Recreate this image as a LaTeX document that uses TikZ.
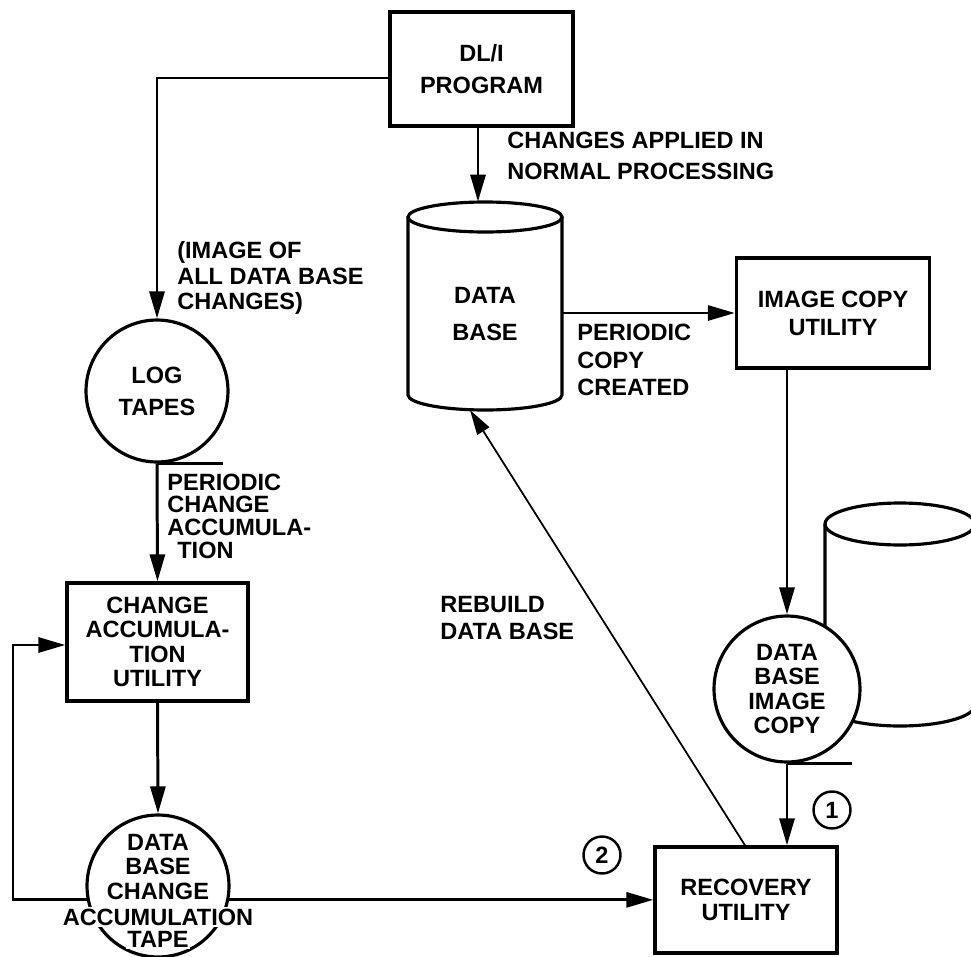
\documentclass[tikz,border=0pt]{standalone}
\usepackage{fontspec}
\setmainfont{Liberation Sans}
\usetikzlibrary{arrows.meta}
\begin{document}
\begin{tikzpicture}[x=0.02cm,y=-0.02cm,
  line/.style={line width=1.7pt},
  arr/.style={line width=1.7pt,-{Triangle[length=0.54cm,width=0.3cm]}},
  thinarr/.style={line width=1pt,-{Triangle[length=0.5cm,width=0.28cm]}},
  box/.style={draw,line width=1.9pt,inner sep=0pt},
  tape/.style={circle,draw,line width=1.8pt,inner sep=0pt,fill=white},
  num/.style={circle,draw,line width=1.4pt,minimum size=0.74cm,inner sep=0pt,font=\bfseries\fontsize{13.4}{13.4}\selectfont},
  tx/.style={font=\bfseries\fontsize{13.4}{#1}\selectfont,inner sep=0pt},
  tx/.default=15pt]
\useasboundingbox (0,0) rectangle (971,957);

% DL/I program
\node[box,minimum width=3.66cm,minimum height=2.28cm,tx=18pt,align=center] (dli) at (481.5,69) {DL/I\\PROGRAM};

% Data base cylinder
\node[minimum width=3.08cm,minimum height=4.16cm,inner sep=0pt] (db) at (485,306) {};
\draw[line width=1.8pt] (408,217) -- (408,395) arc[start angle=180,end angle=360,x radius=1.54cm,y radius=0.3cm] -- (562,217);
\draw[line width=1.8pt] (485,217) ellipse[x radius=1.54cm,y radius=0.3cm];
\node[tx=21.6pt,align=center] (dbl) at (485,314) {DATA\\BASE};

\draw[arr] (dli.south -| 478,0) -- (db.north -| 478,0);
\node[tx=18pt,align=left,anchor=west] (t1) at (507,156) {CHANGES APPLIED IN\\NORMAL PROCESSING};

% Image copy utility
\node[box,minimum width=3.86cm,minimum height=2.2cm,tx=15.9pt,align=center] (icu) at (833,313) {IMAGE COPY\\UTILITY};
\draw[arr] (icu.west -| db.east) -- (icu.west);
\node[tx=15.6pt,align=left,anchor=west] (t2) at (577,360) {PERIODIC\\COPY\\CREATED};

% right cylinder (behind image copy tape)
\begin{scope}
\clip (0,0) rectangle (971,957);
\draw[line width=1.8pt] (825,524) -- (825,705) arc[start angle=180,end angle=360,x radius=1.5cm,y radius=0.42cm];
\draw[line width=1.8pt] (900,524) ellipse[x radius=1.5cm,y radius=0.42cm];
\end{scope}

% Data base image copy
\node[tape,minimum size=2.92cm,tx=13.7pt,align=center] (dbic) at (787,689) {DATA\\BASE\\IMAGE\\COPY};
\draw[line] (dbic.south) -- ++(65,0);
\draw[arr] (icu.south -| dbic.north) -- (dbic.north);

% Recovery utility
\node[box,minimum width=3.64cm,minimum height=2.12cm,tx=14.2pt,align=center] (rec) at (746,900) {RECOVERY\\UTILITY};
\draw[arr] (dbic.south) -- (dbic.south |- rec.north);
\node[num] (n1) at (832,810) {1};
\node[num] (n2) at (602,855) {2};

% Rebuild
\coordinate (rbtip) at (470,410);
\draw[thinarr] ([xshift=-0.02cm]rec.north) -- (rbtip);
\node[tx=15.4pt,align=left,anchor=west] (t3) at (440,618) {REBUILD\\DATA BASE};

% Log tapes
\node[tape,minimum size=2.84cm,tx=18.2pt,align=center] (log) at (157,391) {LOG\\TAPES};
\draw[line] (log.south) -- ++(66,0);
\draw[arr] ([yshift=-0.18cm]dli.west) -| (log.north);
\node[tx=14.5pt,align=left,anchor=west] (t4) at (177,278) {(IMAGE OF\\ALL DATA BASE\\CHANGES)};

% Change accumulation utility
\node[box,minimum width=3.62cm,minimum height=2.36cm,tx=13.8pt,align=center] (cau) at (157.5,642) {CHANGE\\ACCUMULA-\\TION\\UTILITY};
\draw[arr] (log.south) -- (cau.north);
\node[tx=12.9pt,align=left,anchor=west] (t5) at (167,516) {PERIODIC\\CHANGE\\ACCUMULA-\\\hspace{0.2cm}TION};

% Data base change accumulation tape
\node[tape,minimum size=2.84cm] (tp) at (158,886) {};
\draw[arr] (cau.south) -- (tp.north);
\draw[line] (tp.south) -- ++(68,0);
\node[tx=14pt,align=center] (tpl) at (158,867) {DATA\\BASE\\CHANGE};
\node[tx,fill=white,inner sep=1pt] (tpa) at (158,917) {ACCUMULATION};
\node[tx,fill=white,inner sep=1pt] (tpb) at (158,939) {TAPE};
\coordinate (fb) at (13,700);
\draw[arr] (tp.191) -| (fb) |- ([yshift=-0.06cm]cau.west);
\draw[arr] (tp.-11) -- (tp.-11 -| rec.west);
\end{tikzpicture}
\end{document}
